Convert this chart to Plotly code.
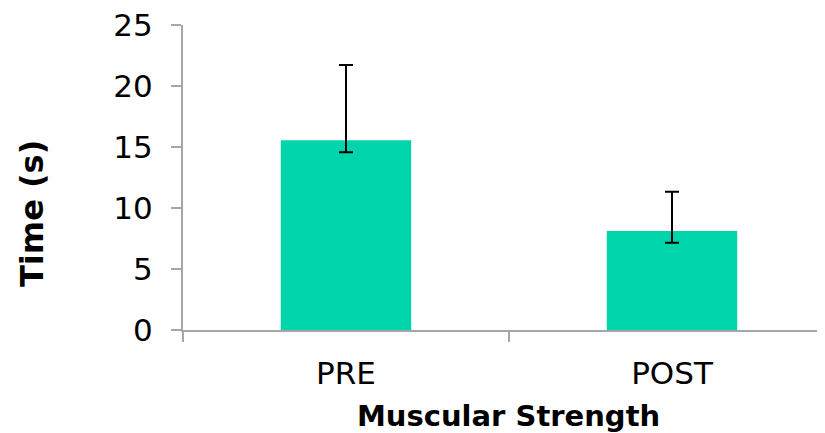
import plotly.graph_objects as go

categories = ["PRE", "POST"]
means = [15.55, 8.11]
err_plus = [6.17, 3.23]
err_minus = [0.98, 0.95]
y_ticks = [0, 5, 10, 15, 20, 25]

BAR = "#00D4AA"
AXIS = "#A6A6A6"
FONT = "DejaVu Sans"

# page body adds an 8px offset; figure coords = screen coords - 8
W, H = 817, 425
L, T, B = 175, 17, 103
PW, PH = W - L, H - T - B

def px(x):
    return (x - 8 - L) / PW

def py(y):
    return (H - B - (y - 8)) / PH

fig = go.Figure()
fig.add_trace(go.Bar(
    x=categories, y=means,
    marker=dict(color=BAR, line=dict(width=0)),
    error_y=dict(type="data", symmetric=False, array=err_plus, arrayminus=err_minus,
                 color="black", thickness=2, width=7),
))

fig.update_layout(
    width=W, height=H,
    margin=dict(l=L, r=0, t=T, b=B, pad=0),
    plot_bgcolor="white", paper_bgcolor="white",
    bargap=0.6, showlegend=False,
    font=dict(family=FONT, size=30, color="black"),
    xaxis=dict(
        range=[-0.5, -0.5 + PW / 326], showline=True, linecolor=AXIS, linewidth=2,
        ticks="outside", tickson="boundaries", ticklen=10, tickcolor=AXIS, tickwidth=2,
        showgrid=False, tickfont=dict(size=31), ticklabelstandoff=15, fixedrange=True,
    ),
    yaxis=dict(
        range=[0, 25], tickvals=y_ticks, showline=True, linecolor=AXIS, linewidth=2,
        ticks="outside", ticklen=10, tickcolor=AXIS, tickwidth=2,
        showgrid=False, zeroline=False, tickfont=dict(size=31), ticklabelstandoff=12,
        ticklabeloverflow="allow",
    ),
    annotations=[
        dict(text="<b>Muscular Strength</b>", xref="paper", yref="paper",
             x=px(509), y=py(416), xanchor="center", yanchor="middle",
             showarrow=False, font=dict(family=FONT, size=29, color="black")),
        dict(text="<b>Time (s)</b>", xref="paper", yref="paper",
             x=px(32), y=py(214), xanchor="center", yanchor="middle",
             textangle=-90, showarrow=False, font=dict(family=FONT, size=32, color="black")),
    ],
)

fig.write_html("out.html")
